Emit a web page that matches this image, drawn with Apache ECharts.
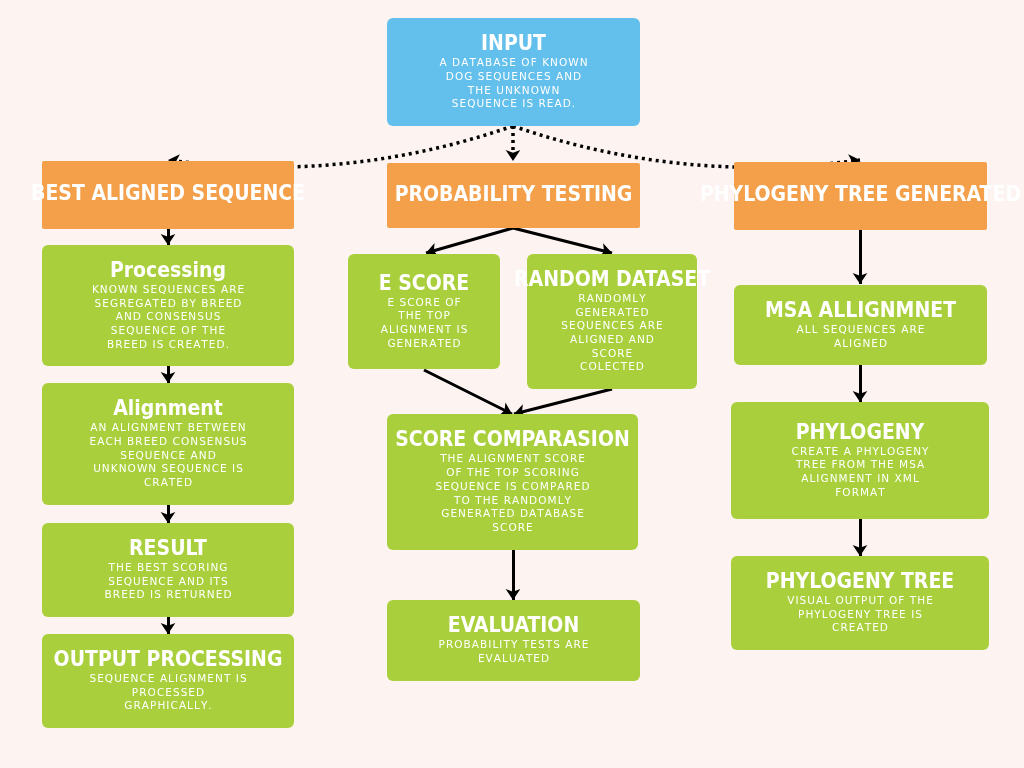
<!DOCTYPE html>
<html lang="en">
<head>
<meta charset="UTF-8">
<title>Dog breed flowchart</title>
<script src="https://cdn.jsdelivr.net/npm/echarts@6/dist/echarts.min.js"></script>
<style>
  html, body { margin: 0; padding: 0; background: #fdf3f1; }
  #chart { width: 1024px; height: 768px; }
</style>
</head>
<body>
<div id="chart"></div>
<script>
// box extents in chart units: [x0, y0, x1, y1]
var boxTitles = ['INPUT', 'BEST ALIGNED SEQUENCE', 'PROBABILITY TESTING', 'PHYLOGENY TREE GENERATED',
  'Processing', 'Alignment', 'RESULT', 'OUTPUT PROCESSING',
  'E SCORE', 'RANDOM DATASET', 'SCORE COMPARASION', 'EVALUATION',
  'MSA ALLIGNMNET', 'PHYLOGENY', 'PHYLOGENY TREE'];
var boxText = [
  ['A DATABASE OF KNOWN', 'DOG SEQUENCES AND', 'THE UNKNOWN', 'SEQUENCE IS READ.'],
  [], [], [],
  ['KNOWN SEQUENCES ARE', 'SEGREGATED BY BREED', 'AND CONSENSUS', 'SEQUENCE OF THE', 'BREED IS CREATED.'],
  ['AN ALIGNMENT BETWEEN', 'EACH BREED CONSENSUS', 'SEQUENCE AND', 'UNKNOWN SEQUENCE IS', 'CRATED'],
  ['THE BEST SCORING', 'SEQUENCE AND ITS', 'BREED IS RETURNED'],
  ['SEQUENCE ALIGNMENT IS', 'PROCESSED', 'GRAPHICALLY.'],
  ['E SCORE OF', 'THE TOP', 'ALIGNMENT IS', 'GENERATED'],
  ['RANDOMLY', 'GENERATED', 'SEQUENCES ARE', 'ALIGNED AND', 'SCORE', 'COLECTED'],
  ['THE ALIGNMENT SCORE', 'OF THE TOP SCORING', 'SEQUENCE IS COMPARED', 'TO THE RANDOMLY', 'GENERATED DATABASE', 'SCORE'],
  ['PROBABILITY TESTS ARE', 'EVALUATED'],
  ['ALL SEQUENCES ARE', 'ALIGNED'],
  ['CREATE A PHYLOGENY', 'TREE FROM THE MSA', 'ALIGNMENT IN XML', 'FORMAT'],
  ['VISUAL OUTPUT OF THE', 'PHYLOGENY TREE IS', 'CREATED']
];
var boxKind = ['input', 'stage', 'stage', 'stage', 'step', 'step', 'step', 'step',
  'step', 'step', 'step', 'step', 'step', 'step', 'step'];
var boxX0 = [387, 42, 387, 734, 42, 42, 42, 42, 348, 527, 387, 387, 734, 731, 731];
var boxY0 = [18, 161, 163, 162, 245, 383, 523, 634, 254, 254, 414, 600, 285, 402, 556];
var boxX1 = [640, 294, 640, 987, 294, 294, 294, 294, 500, 697, 638, 640, 987, 989, 989];
var boxY1 = [126, 229, 228, 230, 366, 505, 617, 728, 369, 389, 550, 681, 365, 519, 650];

// solid arrows [from, to]
var arrowFrom = [[168, 229], [168, 366], [168, 505], [168, 617], [513, 228], [513, 228],
  [424, 370], [612, 389], [513, 550], [860, 230], [860, 365], [860, 519]];
var arrowTo = [[168, 245], [168, 383], [168, 523], [168, 634], [426, 253], [612, 253],
  [512, 414], [514, 414], [513, 600], [860, 284], [860, 402], [860, 556]];
// dotted arrows from input
var dotFrom = [[513, 126], [513, 126], [513, 126]];
var dotTo = [[168, 160], [513, 161], [860, 160]];
var dotCurve = [0.12, 0, -0.12];

var kindColor = { input: '#63bfeb', stage: '#f4a04b', step: '#a9d03c' };

var chart = echarts.init(document.getElementById('chart'));

var boxData = boxTitles.map(function (t, i) {
  return [boxX0[i], boxY0[i], boxX1[i], boxY1[i], i];
});

function renderBox(params, api) {
  var i = api.value(4);
  var p0 = api.coord([api.value(0), api.value(1)]);
  var p1 = api.coord([api.value(2), api.value(3)]);
  var w = p1[0] - p0[0], h = p1[1] - p0[1];
  var lines = boxText[i];
  var titleH = 24, lineH = 13.7;
  var blockH = titleH + lines.length * lineH;
  var top = p0[1] + (h - blockH) / 2;
  var cx = p0[0] + w / 2;
  var children = [{
    type: 'rect',
    shape: { x: p0[0], y: p0[1], width: w, height: h, r: boxKind[i] === 'stage' ? 2 : 6 },
    style: { fill: kindColor[boxKind[i]] }
  }, {
    type: 'text',
    style: {
      x: cx, y: top + titleH / 2, text: boxTitles[i], align: 'center', verticalAlign: 'middle',
      fill: '#fff', font: 'bold 21px "DejaVu Sans Condensed", "Liberation Sans Narrow", sans-serif'
    }
  }];
  lines.forEach(function (l, k) {
    children.push({
      type: 'text',
      style: {
        x: cx, y: top + titleH + lineH * (k + 0.5), text: l.split('').join('\u200A'),
        align: 'center', verticalAlign: 'middle', fill: '#fff',
        font: '500 10.5px "DejaVu Sans", sans-serif'
      }
    });
  });
  return { type: 'group', children: children };
}

var solidLines = arrowFrom.map(function (f, i) { return { coords: [f, arrowTo[i]] }; });
var dottedLines = dotFrom.map(function (f, i) {
  return { coords: [f, dotTo[i]], lineStyle: { curveness: dotCurve[i] } };
});

chart.setOption({
  backgroundColor: '#fdf3f1',
  animation: false,
  grid: { left: 0, right: 0, top: 0, bottom: 0 },
  xAxis: { type: 'value', min: 0, max: 1024, show: false },
  yAxis: { type: 'value', min: 0, max: 768, inverse: true, show: false },
  series: [
    {
      type: 'lines', coordinateSystem: 'cartesian2d', z: 1,
      symbol: ['none', 'arrow'], symbolSize: 11,
      lineStyle: { color: '#000', width: 3, type: 'solid', opacity: 1 },
      data: solidLines
    },
    {
      type: 'lines', coordinateSystem: 'cartesian2d', z: 1,
      symbol: ['none', 'arrow'], symbolSize: 11,
      lineStyle: { color: '#000', width: 3.5, type: [3, 4], opacity: 1 },
      data: dottedLines
    },
    {
      type: 'custom', coordinateSystem: 'cartesian2d', z: 5,
      renderItem: renderBox,
      data: boxData
    }
  ]
});
</script>
</body>
</html>
